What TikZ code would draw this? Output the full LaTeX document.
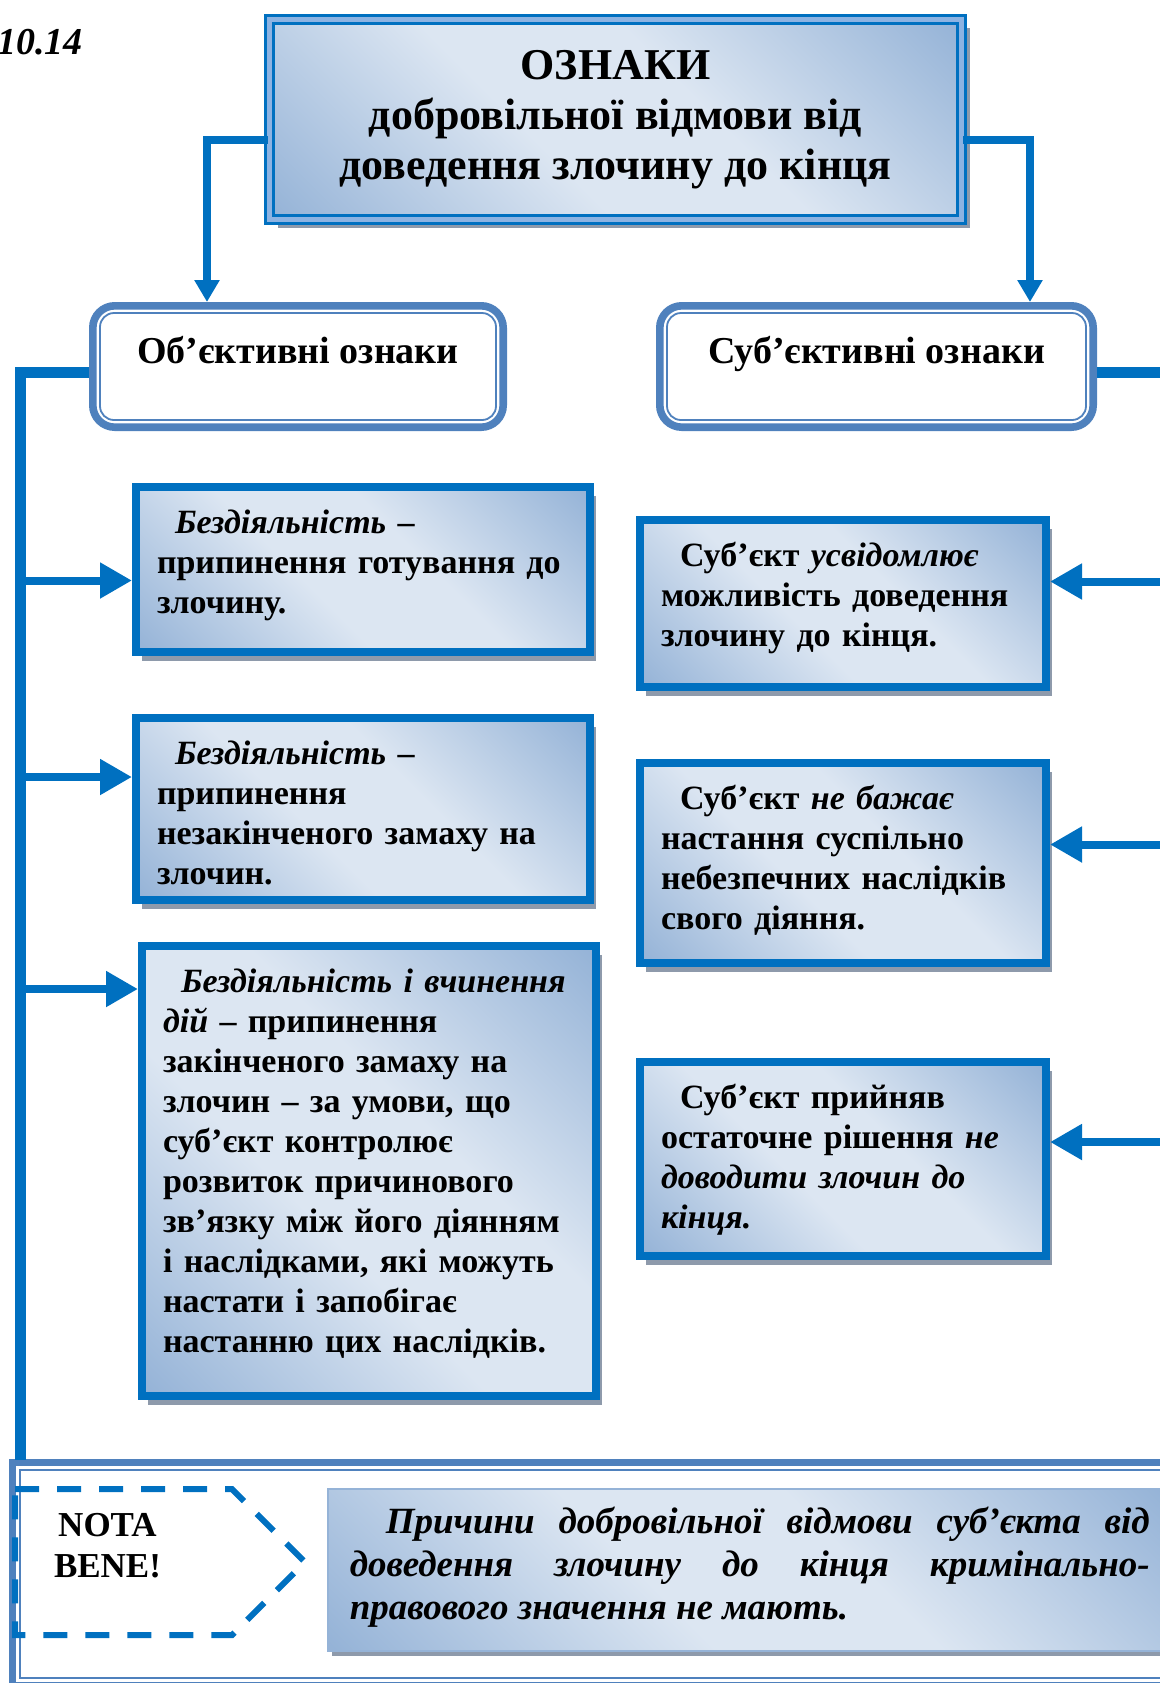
\documentclass[tikz,border=0pt]{standalone}
\usepackage{fontspec}
\setmainfont{Liberation Serif}
\usetikzlibrary{arrows.meta,shadows}
\definecolor{wblue}{HTML}{0070C0}
\definecolor{steel}{HTML}{4F81BD}
\definecolor{midblue}{HTML}{8DB3E2}
\definecolor{gradlight}{HTML}{DCE6F2}
\definecolor{graddark}{HTML}{95B3D7}
\definecolor{shadowgray}{HTML}{8E9AAB}
\pgfdeclarehorizontalshading{wordgrad}{100bp}{color(0bp)=(graddark); color(15bp)=(graddark); color(42bp)=(gradlight); color(58bp)=(gradlight); color(85bp)=(graddark); color(100bp)=(graddark)}
\begin{document}
\begin{tikzpicture}[x=0.5pt,y=-0.5pt,
  conn/.style={wblue,line width=4pt},
  bus/.style={wblue,line width=5.5pt},
  branch/.style={conn,-{Triangle[length=16pt,width=17pt]}},
  down arrow/.style={conn,-{Triangle[length=11pt,width=12pt]}},
  gradfill/.style={shade,shading=wordgrad,shading angle=45},
  headbox/.style={gradfill,draw=wblue,line width=1.7pt,double=midblue,double distance=2.3pt,
    drop shadow={shadow xshift=4pt,shadow yshift=-4pt,fill=shadowgray,opacity=1},
    minimum width=346pt,minimum height=100pt,align=center,
    font=\fontsize{22}{25}\selectfont\bfseries},
  kind/.style={draw=steel,line width=3.8pt,rounded corners=11pt,fill=white,inner sep=0pt,
    text height=28.6pt,text depth=32.1pt,anchor=north west,
    font=\fontsize{19}{22}\selectfont\bfseries},
  inner rim/.style={steel,line width=0.9pt,rounded corners=7pt},
  featbox/.style={gradfill,draw=wblue,line width=4pt,anchor=north west,
    drop shadow={shadow xshift=3pt,shadow yshift=-4.5pt,fill=shadowgray,opacity=1},
    inner xsep=10.5pt,inner ysep=0pt,text height=23pt,align=left,
    font=\fontsize{17}{20}\selectfont\bfseries},
  notebox/.style={gradfill,draw=graddark,line width=0.8pt,anchor=north west,
    drop shadow={shadow xshift=2pt,shadow yshift=-2.5pt,fill=shadowgray,opacity=1},
    inner xsep=11pt,inner ysep=0pt,text width=400pt,text height=22.5pt,text depth=58.5pt,
    align=justify,font=\fontsize{18.5}{21.5}\selectfont\bfseries\itshape},
  nbdash/.style={wblue,line width=3pt,dash pattern=on 12pt off 9pt}]
  \useasboundingbox (0,0) rectangle (1160,1683);
  \clip (0,0) rectangle (1160,1683);

  \node[anchor=base west,font=\fontsize{19}{22}\selectfont\bfseries\itshape] (num) at (-10,54) {10.14};

  % heading and the two kinds of signs
  \node[headbox] (title) at (615.5,119.5) {ОЗНАКИ\\добровільної відмови від\\доведення злочину до кінця};
  \node[kind,minimum width=205.2pt] (obj) at (89,302) {Об’єктивні ознаки};
  \node[kind,minimum width=216.7pt] (subj) at (656,302) {Суб’єктивні ознаки};
  \draw[inner rim] ([shift={(5.5pt,-5.5pt)}]obj.north west) rectangle ([shift={(-5.5pt,5.5pt)}]obj.south east);
  \draw[inner rim] ([shift={(5.5pt,-5.5pt)}]subj.north west) rectangle ([shift={(-5.5pt,5.5pt)}]subj.south east);
  \draw[down arrow] ([yshift=-10.25pt]title.west) -| ([xshift=-45.5pt]obj.north);
  \draw[down arrow] ([yshift=-10.25pt]title.east) -| ([xshift=76.75pt]subj.north);

  % objective signs
  \node[featbox,text width=206pt,text depth=59.5pt] (l1) at (132,483)
    {\hspace*{9pt}\textit{Бездіяльність} –\\припинення готування до\\злочину.};
  \node[featbox,text width=206pt,text depth=68pt] (l2) at (132,714)
    {\hspace*{9pt}\textit{Бездіяльність} –\\припинення\\незакінченого замаху на\\злочин.};
  \node[featbox,text width=206pt,text depth=202pt] (l3) at (138,942)
    {\hspace*{9pt}\textit{Бездіяльність і вчинення}\\\textit{дій} – припинення\\закінченого замаху на\\злочин – за умови, що\\суб’єкт контролює\\розвиток причинового\\зв’язку між його діянням\\і наслідками, які можуть\\настати і запобігає\\настанню цих наслідків.};

  % subjective signs
  \node[featbox,text width=182pt,text depth=60.5pt] (r1) at (636,516)
    {\hspace*{9.5pt}Суб’єкт \textit{усвідомлює}\\можливість доведення\\злочину до кінця.};
  \node[featbox,text width=182pt,text depth=77pt] (r2) at (636,759)
    {\hspace*{9.5pt}Суб’єкт \textit{не бажає}\\настання суспільно\\небезпечних наслідків\\свого діяння.};
  \node[featbox,text width=182pt,text depth=74pt] (r3) at (636,1058)
    {\hspace*{9.5pt}Суб’єкт прийняв\\остаточне рішення \textit{не}\\\textit{доводити злочин до}\\\textit{кінця.}};

  % nota bene
  \node[draw=steel,line width=3.5pt,anchor=north west,inner sep=0pt,minimum width=600pt,minimum height=111.5pt] (frame) at (9,1459) {};
  \draw[steel,line width=0.9pt] ([shift={(5.5pt,-5.5pt)}]frame.north west) rectangle ([shift={(-5.5pt,5.5pt)}]frame.south east);
  \draw[nbdash] (15,1489) -- (232,1489) -- (305,1562) -- (232,1635) -- (15,1635) -- cycle;
  \node[align=center,font=\fontsize{17.5}{20.5}\selectfont\bfseries] (nb) at (107.5,1546) {NOTA\\BENE!};
  \node[notebox] (note) at (327,1488)
    {\hspace*{18pt}Причини добровільної відмови суб’єкта від\linebreak доведення злочину до кінця кримінально-\linebreak правового значення не мають.};

  % buses
  \coordinate (lbus) at (20.5,1460);
  \coordinate (rbus) at (1185,1144);
  \draw[bus] ([yshift=-2.75pt]obj.west) -| (lbus);
  \draw[bus] ([yshift=-2.75pt]subj.east) -| (rbus);
  \foreach \b/\s in {l1/-5.5,l2/16,l3/91}
    \draw[branch] ([yshift=\s pt]\b.west -| lbus) -- ([yshift=\s pt]\b.west);
  \foreach \b/\s in {r1/11,r2/9.25,r3/8.5}
    \draw[branch] ([yshift=\s pt]\b.east -| rbus) -- ([yshift=\s pt]\b.east);
\end{tikzpicture}
\end{document}
